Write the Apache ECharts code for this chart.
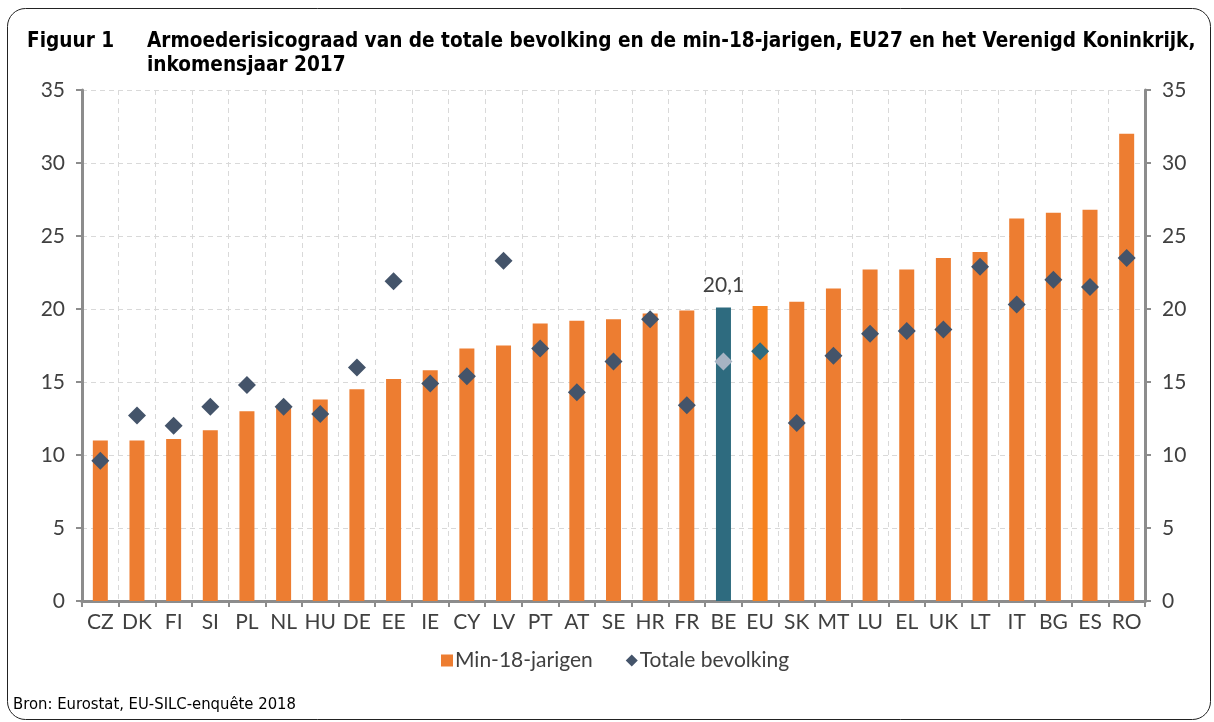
<!DOCTYPE html>
<html>
<head>
<meta charset="utf-8">
<title>Figuur 1</title>
<script src="https://cdn.jsdelivr.net/npm/echarts@6/dist/echarts.min.js"></script>
<style>
  html, body { margin: 0; padding: 0; background: #fff; }
  #chart { width: 1214px; height: 722px; }
</style>
</head>
<body>
<div id="chart"></div>
<script>
var landen = ['CZ','DK','FI','SI','PL','NL','HU','DE','EE','IE','CY','LV','PT','AT','SE','HR','FR','BE','EU','SK','MT','LU','EL','UK','LT','IT','BG','ES','RO'];
var minAchttien = [11.0,11.0,11.1,11.7,13.0,13.3,13.8,14.5,15.2,15.8,17.3,17.5,19.0,19.2,19.3,19.7,19.9,20.1,20.2,20.5,21.4,22.7,22.7,23.5,23.9,26.2,26.6,26.8,32.0];
var totaal = [9.6,12.7,12.0,13.3,14.8,13.3,12.8,16.0,21.9,14.9,15.4,23.3,17.3,14.3,16.4,19.3,13.4,16.4,17.1,12.2,16.8,18.3,18.5,18.6,22.9,20.3,22.0,21.5,23.5];
var yTicks = [0,5,10,15,20,25,30,35];

var labelFont = 'Lato';
var titleFont = "'DejaVu Sans Condensed', 'DejaVu Sans'";
var oranje = '#ED7D31';
var donker = '#44546A';
var asKleur = '#8C8C8C';

var barData = minAchttien.map(function(v, i){
  var item = {value: v};
  if(landen[i] === 'BE'){
    item.itemStyle = {color: '#2E6B7F'};
    item.label = {show: true, position: 'top', distance: 12, formatter: function(p){ return String(p.value).replace('.', ','); }};
  }else if(landen[i] === 'EU'){
    item.itemStyle = {color: '#F58220'};
  }
  return item;
});
var dotData = totaal.map(function(v, i){
  var item = {value: v};
  if(landen[i] === 'BE'){
    item.itemStyle = {color: '#A7B3C3'};
  }else if(landen[i] === 'EU'){
    item.itemStyle = {color: '#2E6B7F'};
  }
  return item;
});

var mychart = echarts.init(document.getElementById('chart'));
var yAs = function(pos){
  return {
    type: 'value',
    position: pos,
    min: yTicks[0],
    max: yTicks[yTicks.length - 1],
    interval: 5,
    axisLine: {show: true, lineStyle: {color: asKleur, width: 3}},
    axisTick: {show: true, length: 6, lineStyle: {color: asKleur, width: 2}},
    axisLabel: {color: '#404040', fontFamily: labelFont, fontSize: 21, margin: 17},
    splitLine: {show: pos === 'left', lineStyle: {color: '#D9D9D9', type: [5, 4], width: 1}}
  };
};
var options = {
  animation: false,
  textStyle: {fontFamily: labelFont},
  title: [{
    text: 'Figuur 1',
    left: 27, top: 30, padding: 0,
    textStyle: {fontFamily: titleFont, fontSize: 20.6, fontWeight: 'bold', color: '#000', lineHeight: 24}
  },{
    text: 'Armoederisicograad van de totale bevolking en de min-18-jarigen, EU27 en het Verenigd Koninkrijk,\ninkomensjaar 2017',
    left: 147, top: 30, padding: 0,
    textStyle: {fontFamily: titleFont, fontSize: 20.6, fontWeight: 'bold', color: '#000', lineHeight: 24}
  },{
    text: 'Bron: Eurostat, EU-SILC-enquête 2018',
    left: 13, top: 696, padding: 0,
    textStyle: {fontFamily: titleFont, fontSize: 16.5, fontWeight: 'normal', color: '#000'}
  }],
  graphic: [{
    type: 'rect',
    z: -1,
    shape: {x: 7.5, y: 8.5, width: 1203, height: 711, r: 18},
    style: {fill: 'none', stroke: '#222', lineWidth: 1}
  }],
  legend: {
    left: 436, top: 645,
    itemGap: 33,
    itemWidth: 12, itemHeight: 12,
    textStyle: {color: '#404040', fontFamily: labelFont, fontSize: 21, padding: [0, 0, 0, -3]},
    data: [
      {name: 'Min-18-jarigen', icon: 'rect', itemStyle: {color: oranje}},
      {name: 'Totale bevolking', icon: 'diamond', itemStyle: {color: donker, opacity: 1}}
    ]
  },
  grid: {left: 82, right: 69, top: 90, bottom: 121},
  xAxis: [{
    type: 'category',
    data: landen,
    axisLine: {lineStyle: {color: asKleur, width: 3}},
    axisTick: {show: true, length: 6, alignWithLabel: false, lineStyle: {color: asKleur, width: 2}},
    axisLabel: {color: '#404040', fontFamily: labelFont, fontSize: 21, margin: 11, interval: 0},
    splitLine: {show: true, interval: 0, lineStyle: {color: '#D9D9D9', type: [5, 4], width: 1}}
  },{
    type: 'category',
    position: 'top',
    data: landen,
    axisLine: {show: true, lineStyle: {color: asKleur, width: 3}},
    axisTick: {show: false},
    axisLabel: {show: false}
  }],
  yAxis: [yAs('left'), yAs('right')],
  series: [{
    name: 'Min-18-jarigen',
    type: 'bar',
    barWidth: 15,
    itemStyle: {color: oranje},
    label: {color: '#404040', fontFamily: labelFont, fontSize: 21},
    data: barData
  },{
    name: 'Totale bevolking',
    type: 'scatter',
    symbol: 'diamond',
    symbolSize: [18, 18],
    itemStyle: {color: donker, opacity: 1},
    data: dotData
  }]
};
mychart.setOption(options);
</script>
</body>
</html>
